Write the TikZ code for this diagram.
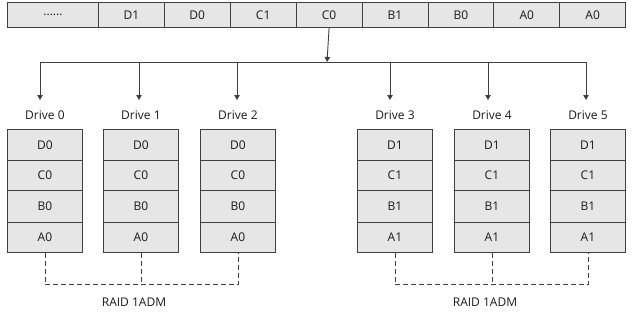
\documentclass[tikz,border=0pt]{standalone}
\usepackage{fontspec}
\setmainfont{Open Sans}
\usetikzlibrary{arrows.meta}
\definecolor{cellfill}{HTML}{E6E6E6}
\definecolor{linec}{HTML}{404040}
\definecolor{txt}{HTML}{1A1A1A}
\tikzset{
  cell/.style={draw=linec, fill=cellfill, line width=0.9pt, minimum height=25pt, inner sep=0pt, anchor=north west, text=txt, font=\fontsize{12}{14}\selectfont},
  dcell/.style={draw=linec, fill=cellfill, line width=0.9pt, minimum width=75pt, inner sep=0pt, anchor=north west, text=txt, font=\fontsize{12}{14}\selectfont},
  lab/.style={text=txt, font=\fontsize{12}{14}\selectfont, inner sep=0pt},
  conn/.style={draw=linec, line width=0.9pt},
  arr/.style={conn, -{Triangle[width=5.5pt,length=5pt]}},
  dsh/.style={draw=linec, line width=0.9pt, dash pattern=on 5pt off 3pt}
}
\begin{document}
\begin{tikzpicture}[x=1pt,y=-1pt]
\useasboundingbox (0,0) rectangle (633,319);
% top bar
\node[cell, minimum width=91pt] (t0) at (7,2) {......};
\foreach \i/\x/\t in {1/98/D1,2/163.9/D0,3/229.8/C1,4/295.7/C0,5/361.6/B1,6/427.5/B0,7/493.4/A0,8/559.3/A0}
  \node[cell, minimum width=65.9pt] (t\i) at (\x,2) {\t};
% distribution
\coordinate (h0) at (40,62);
\coordinate (h1) at (139,62);
\coordinate (h2) at (237,62);
\coordinate (h3) at (390,62);
\coordinate (h4) at (488,62);
\coordinate (h5) at (586,62);
\coordinate (hc) at (327,62);
\draw[arr] (t4.south) -- (hc);
\draw[conn] (h0) -- (h5);
% drives
\foreach \k/\x/\n in {0/7/0,1/103/0,2/200/0,3/357/1,4/454/1,5/550/1}{
  \node[dcell, minimum height=31pt] (d\k a) at (\x,129) {D\n};
  \node[dcell, minimum height=30pt] (d\k b) at (\x,160) {C\n};
  \node[dcell, minimum height=32pt] (d\k c) at (\x,190) {B\n};
  \node[dcell, minimum height=30pt] (d\k d) at (\x,222) {A\n};
}
\foreach \k in {0,...,5}
  \node[lab, anchor=base] (l\k) at ([yshift=10pt]d\k a.north) {Drive \k};
\foreach \k in {0,...,5}
  \draw[arr] (h\k) -- (h\k |- 0,100);
% dashed links
\foreach \g/\a/\b/\c in {L/0/1/2,R/3/4/5}{
  \coordinate (q\a) at ([yshift=-32pt]d\a d.south);
  \coordinate (q\b) at ([yshift=-32pt]d\b d.south);
  \coordinate (q\c) at ([yshift=-32pt]d\c d.south);
  \draw[dsh] (d\a d.south) -- (q\a) -- (q\c) -- (d\c d.south);
  \draw[dsh] (d\b d.south) -- (q\b);
}
\node[lab] (r0) at (134,302) {RAID 1ADM};
\node[lab] (r1) at (485,302) {RAID 1ADM};
\end{tikzpicture}
\end{document}
